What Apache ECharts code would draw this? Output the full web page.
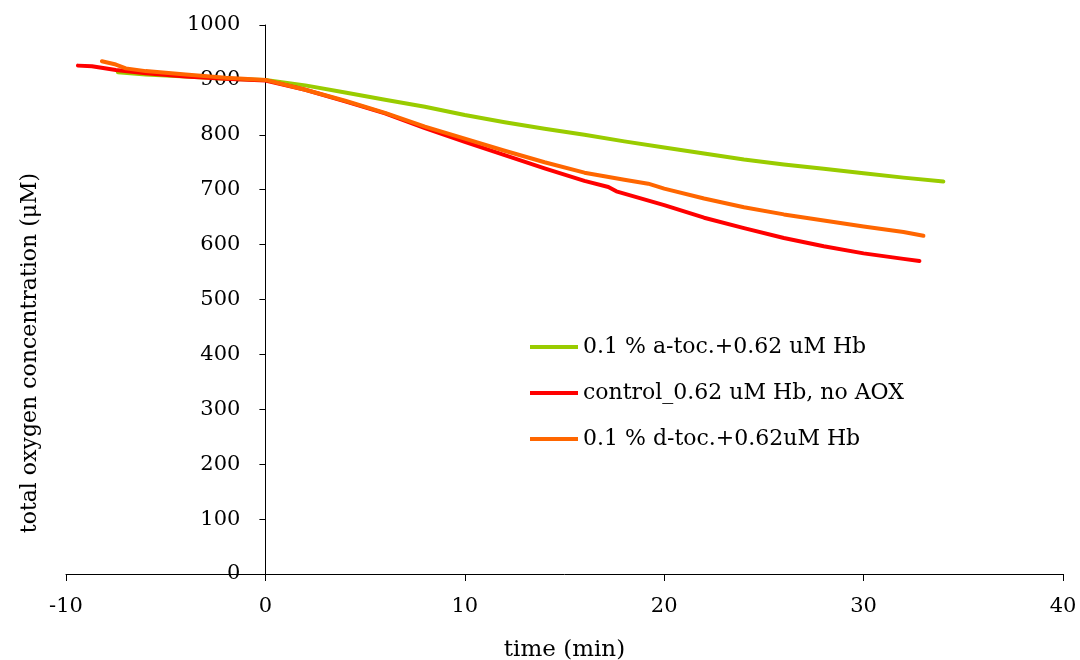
<!DOCTYPE html>
<html>
<head>
<meta charset="utf-8">
<script src="https://cdn.jsdelivr.net/npm/echarts@6/dist/echarts.min.js"></script>
<style>html,body{margin:0;padding:0;background:#fff}#c{width:1080px;height:660px}</style>
</head>
<body>
<div id="c"></div>
<script>
const seriesNames = ['0.1 % a-toc.+0.62 uM Hb', 'control_0.62 uM Hb, no AOX', '0.1 % d-toc.+0.62uM Hb'];
const aTocX = [-7.4, -6, -4, -2, 0, 2, 4, 6, 8, 10, 12, 14, 16, 18, 20, 22, 24, 26, 28, 30, 32, 34];
const aTocY = [914, 910, 906, 902, 900, 890, 877, 864, 851, 836, 823, 811, 800, 788, 777, 766, 755, 746, 738, 730, 722, 715];
const ctrlX = [-9.4, -8.7, -7.5, -6, -4, -2, 0, 2, 4, 6, 8, 10, 12, 14, 16, 17.2, 17.6, 20, 22, 24, 26, 28, 30, 32, 32.8];
const ctrlY = [926, 925, 918, 912, 906, 902, 899, 882, 861, 839, 812, 787, 763, 739, 716, 705, 697, 672, 649, 630, 612, 597, 584, 574, 570];
const dTocX = [-8.2, -7.5, -7, -6, -4, -2, 0, 2, 4, 6, 8, 10, 12, 14, 16, 18, 19.2, 20, 22, 24, 26, 28, 30, 32, 33];
const dTocY = [934, 928, 921, 916, 910, 904, 900, 882, 862, 840, 815, 793, 771, 750, 731, 718, 711, 702, 684, 668, 655, 644, 633, 623, 616];
const xTicks = {min: -10, max: 40, interval: 10};
const yTicks = {min: 0, max: 1000, interval: 100};
const colors = ['#99CC00', '#FF0000', '#FF6600'];

function pairs(xs, ys) { return xs.map((x, i) => [x, ys[i]]); }
const FONT = 'DejaVu Serif';
const W = 1080, H = 660;
const G = {left: 66, right: 17, top: 25, bottom: 86};
// y axis sits at x = 0 on the x scale
const yAxisOffset = -((0 - xTicks.min) / (xTicks.max - xTicks.min)) * (W - G.left - G.right);

const chart = echarts.init(document.getElementById('c'), null, {renderer: 'canvas'});
chart.setOption({
  animation: false,
  backgroundColor: '#fff',
  color: colors,
  grid: {left: G.left, right: G.right, top: G.top, bottom: G.bottom, containLabel: false, outerBoundsMode: 'none'},
  legend: {
    orient: 'vertical', left: 525, top: 330,
    itemWidth: 48, itemHeight: 4, itemGap: 22,
    icon: 'rect',
    data: seriesNames,
    textStyle: {fontFamily: FONT, fontSize: 22, color: '#000', lineHeight: 24}
  },
  xAxis: {
    type: 'value', min: xTicks.min, max: xTicks.max, interval: xTicks.interval,
    name: 'time (min)', nameLocation: 'middle', nameGap: 65,
    nameTextStyle: {fontFamily: FONT, fontSize: 23, color: '#000'},
    axisLine: {show: true, onZero: false, lineStyle: {color: '#000', width: 1}},
    axisTick: {show: true, length: 7, lineStyle: {color: '#000'}},
    axisLabel: {fontFamily: FONT, fontSize: 21, color: '#000', margin: 22, formatter: v => String(v)},
    splitLine: {show: false}
  },
  yAxis: {
    type: 'value', min: yTicks.min, max: yTicks.max, interval: yTicks.interval,
    offset: yAxisOffset,
    axisLine: {show: true, onZero: false, lineStyle: {color: '#000', width: 1}},
    axisTick: {show: true, length: 6, lineStyle: {color: '#000'}},
    axisLabel: {fontFamily: FONT, fontSize: 21, color: '#000', margin: 25, formatter: v => String(v)},
    splitLine: {show: false}
  },
  graphic: [{
    type: 'text',
    x: 30, y: 353,
    rotation: Math.PI / 2,
    style: {text: 'total oxygen concentration (μM)', fontFamily: FONT, fontSize: 22, fill: '#000', align: 'center', verticalAlign: 'middle'}
  }],
  series: [
    {name: seriesNames[0], type: 'line', data: pairs(aTocX, aTocY), showSymbol: false, lineStyle: {width: 4, color: colors[0], cap: 'round', join: 'round'}, itemStyle: {color: colors[0]}},
    {name: seriesNames[1], type: 'line', data: pairs(ctrlX, ctrlY), showSymbol: false, lineStyle: {width: 4, color: colors[1], cap: 'round', join: 'round'}, itemStyle: {color: colors[1]}},
    {name: seriesNames[2], type: 'line', data: pairs(dTocX, dTocY), showSymbol: false, lineStyle: {width: 4, color: colors[2], cap: 'round', join: 'round'}, itemStyle: {color: colors[2]}}
  ]
});
</script>
</body>
</html>
